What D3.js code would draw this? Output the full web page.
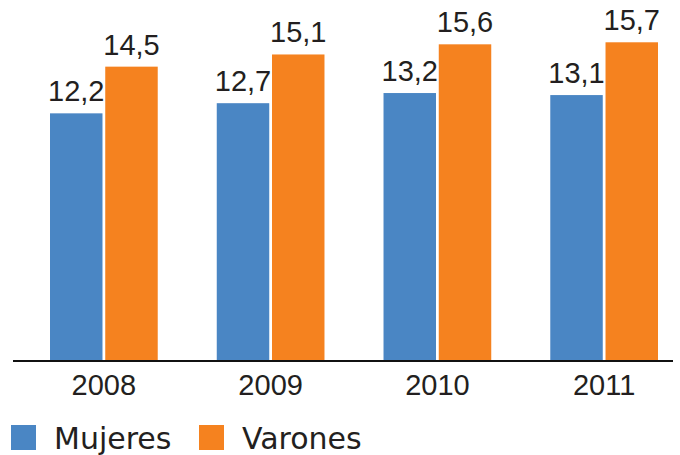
<!DOCTYPE html>
<html>
<head>
<meta charset="utf-8">
<script src="https://cdn.jsdelivr.net/npm/d3@7"></script>
<style>
  body { margin: 0; background: #fff; }
  text { font-family: "Liberation Sans", Arial, sans-serif; fill: #231f20; }
</style>
</head>
<body>
<div id="chart"></div>
<script>
// data
var years = ["2008", "2009", "2010", "2011"];
var series = ["Mujeres", "Varones"];
var mujeres = [12.2, 12.7, 13.2, 13.1];
var varones = [14.5, 15.1, 15.6, 15.7];
var colors = ["#4a86c4", "#f5821f"];

var width = 680, height = 455;
var baseline = 361;

var svg = d3.select("#chart").append("svg")
    .attr("width", width)
    .attr("height", height);

var x0 = d3.scaleBand().domain(years).range([50, 658]).paddingInner(0.354).paddingOuter(0);
var x1 = d3.scaleBand().domain(series).range([0, x0.bandwidth()]).paddingInner(0.05);
var y = d3.scaleLinear().domain([0, 16]).range([baseline, baseline - 16 * 20.3]);

var rows = years.map(function(yr, i){
  return { year: yr, values: [mujeres[i], varones[i]] };
});

var groups = svg.selectAll("g.group").data(rows).enter().append("g")
    .attr("class", "group")
    .attr("transform", function(d){ return "translate(" + x0(d.year) + ",0)"; });

groups.selectAll("rect").data(function(d){ return d.values.map(function(v, j){ return { s: series[j], v: v, c: colors[j] }; }); })
  .enter().append("rect")
    .attr("x", function(d){ return x1(d.s); })
    .attr("y", function(d){ return y(d.v); })
    .attr("width", x1.bandwidth())
    .attr("height", function(d){ return baseline - y(d.v); })
    .attr("fill", function(d){ return d.c; });

// value labels
groups.selectAll("text.val").data(function(d){ return d.values.map(function(v, j){ return { s: series[j], v: v }; }); })
  .enter().append("text")
    .attr("class", "val")
    .attr("x", function(d){ return x1(d.s) + x1.bandwidth() / 2; })
    .attr("y", function(d){ return y(d.v) - 12; })
    .attr("text-anchor", "middle")
    .style("font-size", "29px")
    .text(function(d){ return d3.format(".1f")(d.v).replace(".", ","); });

// x axis (no ticks) + long base line
var xAxis = svg.append("g")
    .attr("transform", "translate(0," + baseline + ")")
    .call(d3.axisBottom(x0).tickSize(0).tickPadding(13));
xAxis.select(".domain").remove();
xAxis.selectAll("text").style("font-size", "29px").attr("font-family", null);
svg.append("line")
    .attr("x1", 13).attr("x2", 673)
    .attr("y1", baseline).attr("y2", baseline)
    .attr("stroke", "#111").attr("stroke-width", 2);

// legend
var legendX = [11, 199];
var legend = svg.selectAll("g.legend").data(series).enter().append("g")
    .attr("class", "legend")
    .attr("transform", function(d, i){ return "translate(" + legendX[i] + ",425)"; });
legend.append("rect").attr("width", 25).attr("height", 25)
    .attr("fill", function(d, i){ return colors[i]; });
legend.append("text").attr("x", 43).attr("y", 24)
    .style("font-family", "'DejaVu Sans', sans-serif")
    .style("font-size", "30px")
    .text(function(d){ return d; });
</script>
</body>
</html>
